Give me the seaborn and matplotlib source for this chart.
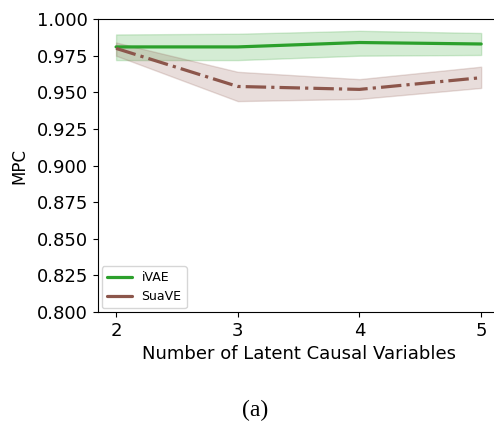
import numpy as np
import pandas as pd
import matplotlib
matplotlib.use("Agg")
import matplotlib.pyplot as plt
import seaborn as sns
from matplotlib.lines import Line2D

x_vals = [2, 3, 4, 5]
ivae_mean = [0.981, 0.981, 0.984, 0.983]
ivae_low = [0.972, 0.972, 0.975, 0.9755]
ivae_high = [0.9895, 0.990, 0.992, 0.9905]
suave_mean = [0.980, 0.954, 0.952, 0.960]
suave_low = [0.975, 0.944, 0.9455, 0.953]
suave_high = [0.984, 0.964, 0.959, 0.9675]
series_names = ["iVAE", "SuaVE"]
colors = ["#2ca02c", "#8c564b"]

sns.set_style("ticks", rc={"axes.edgecolor": "black", "text.color": "black",
                           "axes.labelcolor": "black", "xtick.color": "black",
                           "ytick.color": "black"})
plt.rcParams['font.family'] = ['DejaVu Sans']

fig = plt.figure(figsize=(4.94, 4.24), dpi=100)
ax = fig.add_axes([0.198, 0.264, 0.813, 0.691])

df = pd.DataFrame({"x": x_vals * 2,
                   "MPC": ivae_mean + suave_mean,
                   "method": [series_names[0]] * 4 + [series_names[1]] * 4})

sns.lineplot(data=df[df.method == "iVAE"], x="x", y="MPC", ax=ax,
             color=colors[0], linewidth=2.3, linestyle="-", label="iVAE")
sns.lineplot(data=df[df.method == "SuaVE"], x="x", y="MPC", ax=ax,
             color=colors[1], linewidth=2.3, linestyle="-.", label="SuaVE")
ax.fill_between(x_vals, ivae_low, ivae_high, color=colors[0], alpha=0.2)
ax.fill_between(x_vals, suave_low, suave_high, color=colors[1], alpha=0.2)

ax.set_xlim(1.85, 5.15)
ax.set_ylim(0.8, 1.0)
ax.set_xticks(x_vals)
ax.set_yticks(np.arange(0.8, 1.0001, 0.025))
ax.set_yticklabels([f"{v:.3f}" for v in np.arange(0.8, 1.0001, 0.025)])
ax.tick_params(labelsize=13)
ax.set_xlabel("Number of Latent Causal Variables", fontsize=13)
ax.set_ylabel("MPC", fontsize=12, labelpad=6)
ax.spines['right'].set_visible(False)

handles = [Line2D([], [], color=colors[0], lw=2.3),
           Line2D([], [], color=colors[1], lw=2.3)]
ax.legend(handles, series_names, loc="lower left", fontsize=9, handlelength=2.0,
          borderaxespad=0.3)

fig.text(0.516, 0.033, "(a)", fontsize=17, family="Liberation Serif",
         ha="center", va="center")

fig.savefig("out.png", dpi=100)
